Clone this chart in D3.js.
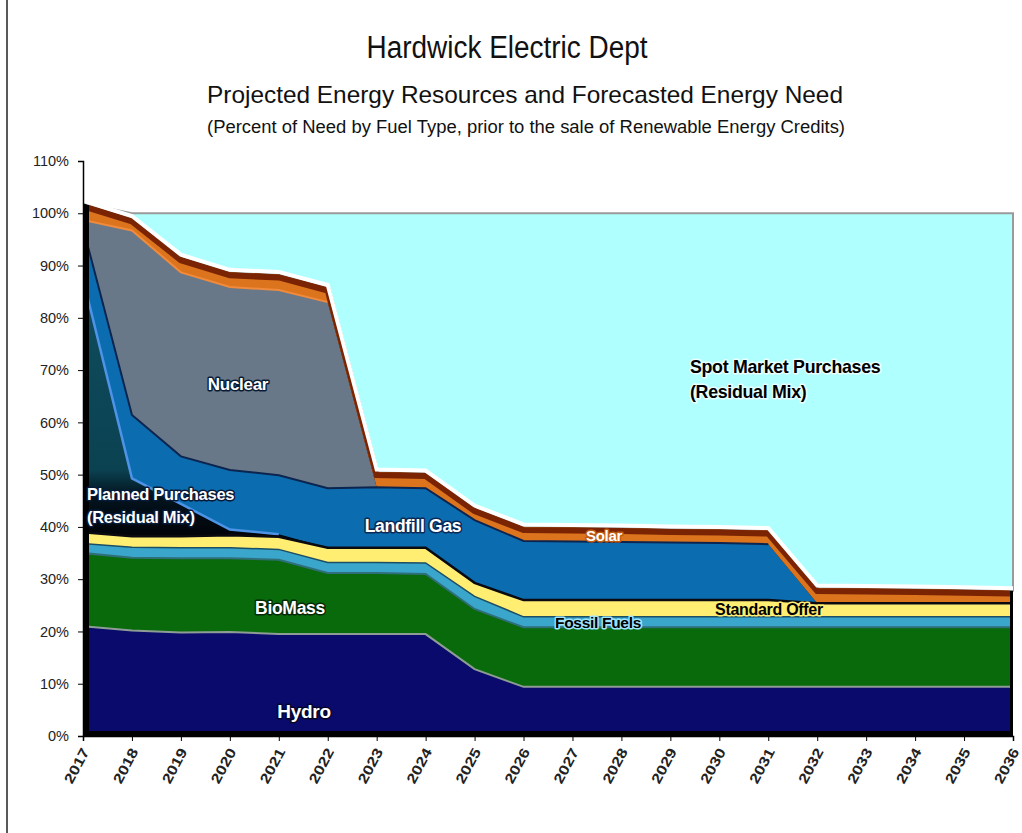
<!DOCTYPE html>
<html>
<head>
<meta charset="utf-8">
<script src="https://cdn.jsdelivr.net/npm/d3@7/dist/d3.min.js"></script>
<style>
  body { margin: 0; background: #fff; }
  svg { display: block; font-family: "Liberation Sans", Arial, sans-serif; }
</style>
</head>
<body>
<div id="chart"></div>
<script>
// values, percent of need, 2017..2036
const years = [2017, 2018, 2019, 2020, 2021, 2022, 2023, 2024, 2025, 2026,
               2027, 2028, 2029, 2030, 2031, 2032, 2033, 2034, 2035, 2036];
const hydro       = [21.0, 20.2, 19.8, 19.9, 19.5, 19.5, 19.5, 19.5, 12.8, 9.4, 9.4, 9.4, 9.4, 9.4, 9.4, 9.4, 9.4, 9.4, 9.4, 9.4];
const bioMass     = [14.0, 13.9, 14.2, 14.1, 14.2, 11.7, 11.7, 11.5, 11.5, 11.4, 11.4, 11.4, 11.4, 11.4, 11.4, 11.4, 11.4, 11.4, 11.4, 11.4];
const fossilFuels = [1.8, 2.0, 2.0, 2.0, 2.0, 2.0, 2.0, 2.1, 2.4, 2.0, 2.0, 2.0, 2.0, 2.0, 2.0, 2.0, 2.0, 2.0, 2.0, 2.0];
const standardOffer = [2.2, 2.1, 2.2, 2.4, 2.4, 2.8, 2.8, 2.9, 2.6, 3.2, 3.2, 3.2, 3.2, 3.2, 3.2, 2.6, 2.6, 2.6, 2.6, 2.6];
const plannedPurchases = [48.5, 11.1, 6.2, 1.1, 0.5, 0, 0, 0, 0, 0, 0, 0, 0, 0, 0, 0, 0, 0, 0, 0];
const landfillGas = [9.8, 12.1, 9.1, 11.4, 11.3, 11.4, 11.6, 11.4, 12.0, 11.3, 11.2, 11.1, 11.0, 10.9, 10.7, 0, 0, 0, 0, 0];
const nuclear     = [1.4, 35.3, 35.2, 35.0, 35.4, 35.6, 0, 0, 0, 0, 0, 0, 0, 0, 0, 0, 0, 0, 0, 0];
const solar       = [3.2, 2.3, 2.9, 2.8, 3.0, 2.8, 2.9, 2.9, 2.3, 2.7, 2.7, 2.7, 2.6, 2.6, 2.6, 2.9, 2.8, 2.7, 2.6, 2.4];
const spotMarket  = [0, 1.0, 8.4, 11.3, 11.7, 14.2, 49.5, 49.7, 56.4, 60.0, 60.1, 60.2, 60.4, 60.5, 60.7, 71.7, 71.8, 71.9, 72.0, 72.2];
const yTicks = [0, 10, 20, 30, 40, 50, 60, 70, 80, 90, 100, 110];

const layers = [
    { key: "hydro", values: hydro, fill: "#0a0a6c", edge: "#8e9c96", edgeWidth: 2 },
    { key: "bioMass", values: bioMass, fill: "#096a0c", edge: "#2f6f7a", edgeWidth: 2 },
    { key: "fossilFuels", values: fossilFuels, fill: "#3aa6cc", edge: "#1c4f66", edgeWidth: 1.5 },
    { key: "standardOffer", values: standardOffer, fill: "#ffee72", edge: "#0a0a10", edgeWidth: 2.5 },
    { key: "plannedPurchases", values: plannedPurchases, fill: "url(#plannedGrad)", edge: "#4f93e6", edgeWidth: 2.5 },
    { key: "landfillGas", values: landfillGas, fill: "#0b6db0", edge: "#0b2550", edgeWidth: 2 },
    { key: "nuclear", values: nuclear, fill: "#687888", edge: "#f08a3c", edgeWidth: 2 },
    { key: "solar", values: solar, fill: "#dc741e", edge: "#7a2404", edgeWidth: 6 },
    { key: "spotMarket", values: spotMarket, fill: "#b0ffff", edge: "#9a9a9a", edgeWidth: 2 }
];

const table = years.map((yr, i) => {
    const row = { year: yr };
    layers.forEach(l => { row[l.key] = l.values[i]; });
    return row;
});

const width = 1022, height = 833;
const x = d3.scaleLinear().domain([2017, 2036]).range([83, 1013]);
const y = d3.scaleLinear().domain([0, 110]).range([736, 161]);

const svg = d3.select("#chart").append("svg")
    .attr("width", width)
    .attr("height", height);

const defs = svg.append("defs");
const grad = defs.append("linearGradient")
    .attr("id", "plannedGrad")
    .attr("gradientUnits", "userSpaceOnUse")
    .attr("x1", 0).attr("x2", 0)
    .attr("y1", y(88)).attr("y2", y(38));
grad.append("stop").attr("offset", "0").attr("stop-color", "#0f4d5e");
grad.append("stop").attr("offset", "0.74").attr("stop-color", "#0b4252");
grad.append("stop").attr("offset", "0.84").attr("stop-color", "#03141e");
grad.append("stop").attr("offset", "1").attr("stop-color", "#010308");

// page frame line on the left
svg.append("line")
    .attr("x1", 7).attr("x2", 7).attr("y1", 0).attr("y2", height)
    .attr("stroke", "#222").attr("stroke-width", 1.5);

const series = d3.stack().keys(layers.map(l => l.key))(table);
const byKey = {};
series.forEach(s => { byKey[s.key] = s; });

const area = d3.area()
    .x(d => x(d.data.year))
    .y0(d => y(d[0]))
    .y1(d => y(d[1]));

const topLine = d3.line()
    .x(d => x(d.data.year))
    .y(d => y(d[1]));

// spot market (residual) fills up to 100%
svg.append("path")
    .datum(byKey.spotMarket)
    .attr("d", area)
    .attr("fill", "#b0ffff")
    .attr("stroke", "#9a9a9a")
    .attr("stroke-width", 2);

// black shadow under the resource stack
svg.append("path")
    .datum(byKey.solar)
    .attr("d", d3.area().x(d => x(d.data.year)).y0(y(0) + 1).y1(d => y(d[1])))
    .attr("fill", "#000");

defs.append("clipPath")
    .attr("id", "inner")
    .append("rect")
    .attr("x", x(2017) + 6)
    .attr("y", 0)
    .attr("width", x(2036) - 3 - (x(2017) + 6))
    .attr("height", y(0) - 5);

const g = svg.append("g").attr("clip-path", "url(#inner)");
const resources = layers.filter(l => l.key !== "spotMarket");

g.selectAll("path.layer")
    .data(resources)
    .enter()
    .append("path")
    .attr("class", "layer")
    .attr("d", l => area(byKey[l.key]))
    .attr("fill", l => l.fill);

// top edge of each band, only where the band exists
const edgeOrder = ["hydro", "bioMass", "fossilFuels", "plannedPurchases", "standardOffer", "nuclear", "landfillGas"];
edgeOrder.forEach(k => {
    const l = layers.find(d => d.key === k);
    g.append("path")
        .datum(byKey[k])
        .attr("d", d3.line()
            .defined(d => d[1] - d[0] > 0.05)
            .x(d => x(d.data.year))
            .y(d => y(d[1]))
        )
        .attr("fill", "none")
        .attr("stroke", l.edge)
        .attr("stroke-width", l.edgeWidth);
});

// solar: dark rim on top, white glow above
svg.append("path")
    .datum(byKey.solar)
    .attr("d", topLine)
    .attr("transform", "translate(0,-2.5)")
    .attr("fill", "none")
    .attr("stroke", "#fff")
    .attr("stroke-width", 4);

g.append("path")
    .datum(byKey.solar)
    .attr("d", topLine)
    .attr("transform", "translate(0,3)")
    .attr("fill", "none")
    .attr("stroke", "#7a2404")
    .attr("stroke-width", 6);

// axes
const yAxis = svg.append("g")
    .attr("transform", `translate(${x(2017)},0)`)
    .call(d3.axisLeft(y).tickValues(yTicks).tickFormat(d => d + "%").tickSize(5).tickPadding(9));
yAxis.select(".domain").attr("stroke", "#000").attr("stroke-width", 1.5);
yAxis.selectAll("text")
    .attr("font-size", 14.5)
    .attr("fill", "#222")
    .attr("font-family", "Liberation Sans, Arial, sans-serif");

const xAxis = svg.append("g")
    .attr("transform", `translate(0,${y(0)})`)
    .call(d3.axisBottom(x).tickValues(years).tickFormat(d3.format("d")).tickSize(5));
xAxis.select(".domain").attr("stroke", "#000").attr("stroke-width", 1.5);
xAxis.selectAll("text")
    .attr("x", 0)
    .attr("y", 0)
    .attr("dy", "0.35em")
    .attr("transform", "translate(2,13) rotate(-62)")
    .attr("text-anchor", "end")
    .attr("font-size", 14)
    .attr("font-weight", "bold")
    .attr("fill", "#222")
    .attr("textLength", 38)
    .attr("lengthAdjust", "spacingAndGlyphs")
    .attr("font-family", "Liberation Sans, Arial, sans-serif");

// titles
const titles = [
    { text: "Hardwick Electric Dept", x: 507, y: 58, size: 31, len: 281 },
    { text: "Projected Energy Resources and Forecasted Energy Need", x: 525, y: 103, size: 24, len: 636 },
    { text: "(Percent of Need by Fuel Type, prior to the sale of Renewable Energy Credits)", x: 526, y: 133, size: 17.5, len: 638 }
];
svg.selectAll("text.title")
    .data(titles)
    .enter()
    .append("text")
    .attr("class", "title")
    .attr("x", d => d.x)
    .attr("y", d => d.y)
    .attr("text-anchor", "middle")
    .attr("font-size", d => d.size)
    .attr("textLength", d => d.len)
    .attr("lengthAdjust", "spacingAndGlyphs")
    .attr("fill", "#111")
    .text(d => d.text);

// in-chart labels
const labels = [
    { lines: ["Nuclear"], x: 238, y: 390, anchor: "middle", fill: "#fff", halo: "#0b1b36", size: 17 },
    { lines: ["Planned Purchases", "(Residual Mix)"], x: 87, y: 500, anchor: "start", fill: "#fff", halo: "#061a3a", size: 16.5 },
    { lines: ["Landfill Gas"], x: 413, y: 532, anchor: "middle", fill: "#fff", halo: "#0a2a5a", size: 17.5 },
    { lines: ["Solar"], x: 604, y: 541, anchor: "middle", fill: "#fff", halo: "#c05a10", size: 15 },
    { lines: ["Spot Market Purchases", "(Residual Mix)"], x: 690, y: 373, anchor: "start", fill: "#000", halo: "#e8ffff", size: 17.8 },
    { lines: ["BioMass"], x: 290, y: 614, anchor: "middle", fill: "#fff", halo: "#062a08", size: 17.5 },
    { lines: ["Fossil Fuels"], x: 598, y: 628, anchor: "middle", fill: "#000", halo: "#9fe4ff", size: 15.5 },
    { lines: ["Standard Offer"], x: 769, y: 615, anchor: "middle", fill: "#000", halo: "#ffee72", size: 16 },
    { lines: ["Hydro"], x: 304, y: 718, anchor: "middle", fill: "#fff", halo: "#05052a", size: 19 }
];
labels.forEach(lb => {
    const t = svg.append("text")
        .attr("x", lb.x)
        .attr("y", lb.y)
        .attr("text-anchor", lb.anchor)
        .attr("font-size", lb.size)
        .attr("font-weight", "bold")
        .attr("fill", lb.fill)
        .attr("stroke", lb.halo)
        .attr("stroke-width", 3)
        .attr("stroke-linejoin", "round")
        .attr("paint-order", "stroke")
        .attr("letter-spacing", -0.3);
    lb.lines.forEach((s, i) => {
        t.append("tspan")
            .attr("x", lb.x)
            .attr("dy", i === 0 ? 0 : "1.4em")
            .text(s);
    });
});
</script>
</body>
</html>
